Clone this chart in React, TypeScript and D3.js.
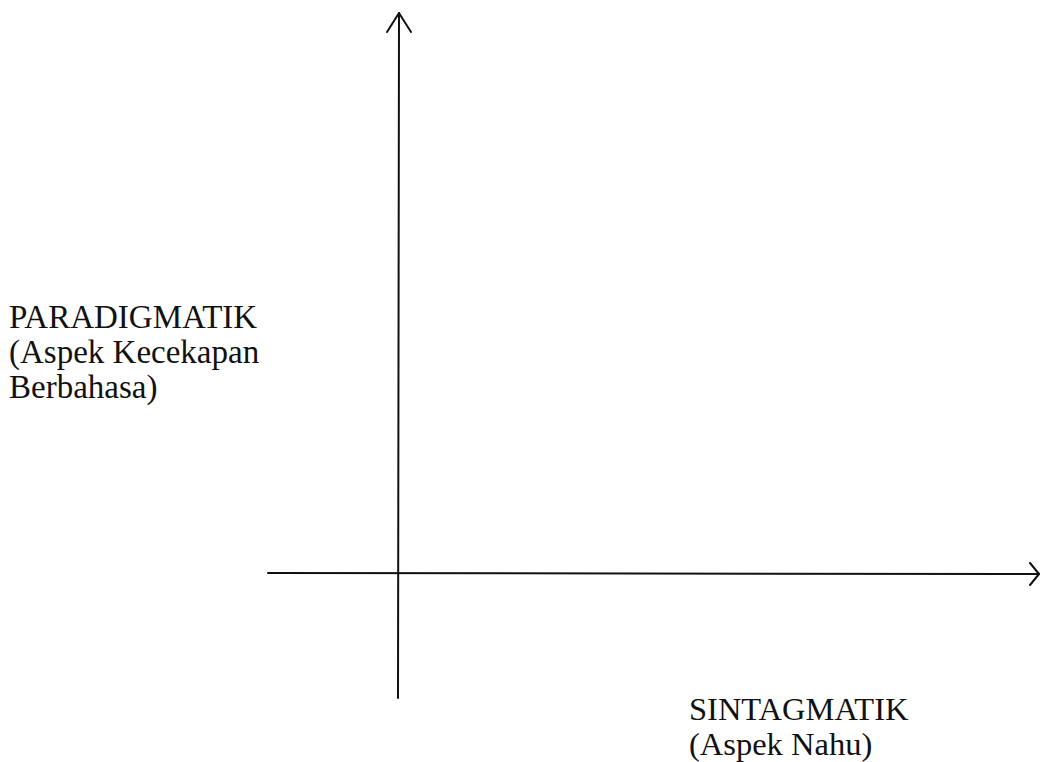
import React from "react";
import * as d3 from "d3";

const W = 1040;
const H = 762;

// Axis extents in abstract (data) units; origin at (0,0)
const xDomain = [-1, 5];
const yDomain = [-1, 4.5];
const yLabelLines = ["PARADIGMATIK", "(Aspek Kecekapan", "Berbahasa)"];
const xLabelLines = ["SINTAGMATIK", "(Aspek Nahu)"];

export default function App() {
  // piecewise scales so the origin sits where the reference puts it
  const x = d3.scaleLinear().domain([xDomain[0], 0, xDomain[1]]).range([268, 398, 1039]);
  const y = d3.scaleLinear().domain([yDomain[0], 0, yDomain[1]]).range([698, 573, 13]);

  const ox = x(0);
  const oy = y(0);
  const xl = x(xDomain[0]);
  const xr = x(xDomain[1]);
  const yb = y(yDomain[0]);
  const yt = y(yDomain[1]);

  const line = d3.line<[number, number]>();
  const font = "'Liberation Serif', 'Times New Roman', serif";

  return (
    <svg
      width={W}
      height={H}
      style={{ position: "absolute", left: 0, top: 0, background: "#fff" }}
    >
      <g stroke="#111" strokeWidth={2} fill="none" strokeLinecap="round" strokeLinejoin="round">
        <path d={line([[xl, oy], [xr, oy + 1]]) || ""} />
        <path d={line([[ox, yb], [ox + 1, yt]]) || ""} />
        <path d={line([[ox - 11, yt + 19], [ox + 1, yt], [ox + 13, yt + 19]]) || ""} />
        <path d={line([[xr - 9, oy - 10], [xr, oy + 1], [xr - 9, oy + 12]]) || ""} />
      </g>
      <g fontFamily={font} fill="#111">
        {yLabelLines.map((t, i) => (
          <text key={t} x={9} y={328 + i * 35} fontSize={33}>{t}</text>
        ))}
        {xLabelLines.map((t, i) => (
          <text key={t} x={689} y={720 + i * 35} fontSize={32.5}>{t}</text>
        ))}
      </g>
    </svg>
  );
}
